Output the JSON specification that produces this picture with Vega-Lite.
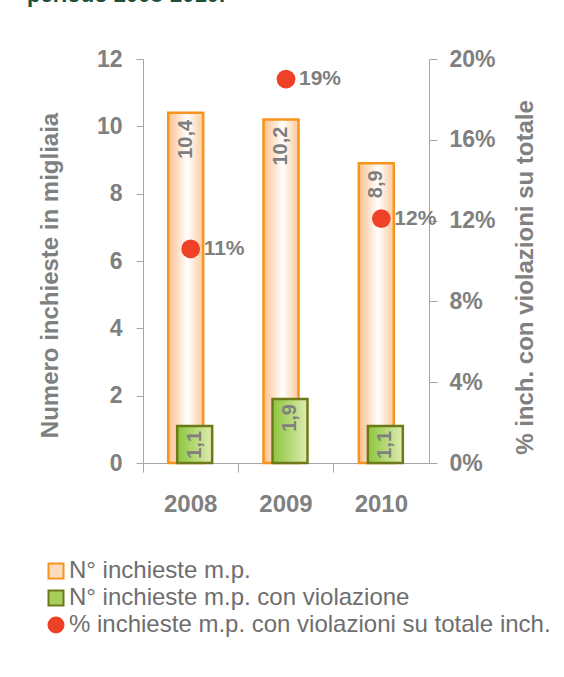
{
  "$schema": "https://vega.github.io/schema/vega-lite/v6.json",
  "autosize": "none",
  "width": 286,
  "height": 404,
  "padding": {"left": 143, "top": 59, "right": 135, "bottom": 214},
  "background": "white",
  "config": {
    "locale": {"number": {"decimal": ",", "thousands": ".", "grouping": [3], "currency": ["", " €"]}},
    "view": {"stroke": null},
    "font": "Liberation Sans",
    "axis": {
      "labelFont": "Liberation Sans", "labelFontWeight": "bold", "labelColor": "#808080", "labelFontSize": 23,
      "titleFont": "Liberation Sans", "titleFontWeight": "bold", "titleColor": "#808080", "titleFontSize": 24,
      "domainColor": "#a6a6a6", "tickColor": "#a6a6a6", "grid": false
    }
  },
  "title": {
    "text": "periodo 2008-2010.", "anchor": "start", "frame": "group", "orient": "top",
    "dx": -116, "offset": 24, "font": "Liberation Sans", "fontSize": 22, "fontWeight": "bold",
    "color": "#1b4f3a", "baseline": "alphabetic"
  },
  "data": {
    "values": [
      {"anno": "2008", "totale": 10.4, "violazione": 1.1, "pct": 0.106},
      {"anno": "2009", "totale": 10.2, "violazione": 1.9, "pct": 0.19},
      {"anno": "2010", "totale": 8.9, "violazione": 1.1, "pct": 0.121}
    ]
  },
  "encoding": {
    "x": {
      "field": "anno", "type": "nominal",
      "scale": {"paddingInner": 0, "paddingOuter": 0},
      "axis": {"title": null, "labelAngle": 0, "bandPosition": 0, "tickSize": 9, "labelPadding": 20, "labelFontSize": 24}
    }
  },
  "layer": [
    {
      "layer": [
        {
          "mark": {
            "type": "bar", "width": 35, "xOffset": -5, "stroke": "#f7941d", "strokeWidth": 2.5,
            "fill": {"gradient": "linear", "x1": 0, "y1": 0, "x2": 1, "y2": 0,
              "stops": [{"offset": 0, "color": "#fbc08c"}, {"offset": 0.55, "color": "#ffffff"}, {"offset": 1, "color": "#fcc99b"}]}
          },
          "encoding": {
            "y": {"field": "totale", "type": "quantitative",
              "scale": {"domain": [0, 12], "nice": false},
              "axis": {"title": "Numero inchieste in migliaia", "values": [0, 2, 4, 6, 8, 10, 12], "tickSize": 7, "labelPadding": 14, "titlePadding": 34, "titleY": 216}}
          }
        },
        {
          "mark": {"type": "text", "angle": 270, "align": "right", "baseline": "middle", "dx": -7, "xOffset": -5,
            "font": "Liberation Sans", "fontWeight": "bold", "fontSize": 20, "color": "#7f7f7f"},
          "encoding": {
            "y": {"field": "totale", "type": "quantitative"},
            "text": {"field": "totale", "type": "quantitative", "format": ".1f"}
          }
        },
        {
          "mark": {
            "type": "bar", "width": 35, "xOffset": 4, "stroke": "#6e7a1a", "strokeWidth": 2.5,
            "fill": {"gradient": "linear", "x1": 0, "y1": 0, "x2": 1, "y2": 0,
              "stops": [{"offset": 0, "color": "#8cc63e"}, {"offset": 0.7, "color": "#c5e08c"}, {"offset": 1, "color": "#dcecb4"}]}
          },
          "encoding": {
            "y": {"field": "violazione", "type": "quantitative"}
          }
        },
        {
          "mark": {"type": "text", "angle": 270, "align": "right", "baseline": "middle", "dx": -5, "xOffset": 4,
            "font": "Liberation Sans", "fontWeight": "bold", "fontSize": 20, "color": "#7f7f7f"},
          "encoding": {
            "y": {"field": "violazione", "type": "quantitative"},
            "text": {"field": "violazione", "type": "quantitative", "format": ".1f"}
          }
        }
      ]
    },
    {
      "layer": [
        {
          "mark": {"type": "point", "shape": "circle", "filled": true, "size": 350, "color": "#ee4127", "opacity": 1},
          "encoding": {
            "y": {"field": "pct", "type": "quantitative",
              "scale": {"domain": [0, 0.2], "nice": false},
              "axis": {"orient": "right", "title": "% inch. con violazioni su totale", "format": ".0%",
                "values": [0, 0.04, 0.08, 0.12, 0.16, 0.2], "tickSize": 8, "labelPadding": 12, "titlePadding": 42, "titleAngle": 270, "titleY": 218}}
          }
        },
        {
          "mark": {"type": "text", "align": "left", "baseline": "middle", "dx": 13,
            "font": "Liberation Sans", "fontWeight": "bold", "fontSize": 21, "color": "#7f7f7f"},
          "encoding": {
            "y": {"field": "pct", "type": "quantitative"},
            "text": {"field": "pct", "type": "quantitative", "format": ".0%"}
          }
        }
      ]
    },
    {
      "transform": [{"filter": "false"}],
      "mark": {"type": "point", "filled": true, "opacity": 1},
      "encoding": {
        "fill": {"field": "serie", "type": "nominal",
          "scale": {"domain": ["N° inchieste m.p.", "N° inchieste m.p. con violazione", "% inchieste m.p. con violazioni su totale inch."],
            "range": ["#fddcbd", "#a6d05a", "#ee4127"]},
          "legend": {"title": null, "orient": "none", "legendX": -99, "legendY": 500, "direction": "vertical",
            "symbolSize": 225, "symbolStrokeWidth": 2, "labelFont": "Liberation Sans", "labelFontSize": 24,
            "labelColor": "#6e6e6e", "labelOffset": 1, "rowPadding": 3, "padding": 0, "labelLimit": 600, "symbolOpacity": 1}},
        "stroke": {"field": "serie", "type": "nominal",
          "scale": {"domain": ["N° inchieste m.p.", "N° inchieste m.p. con violazione", "% inchieste m.p. con violazioni su totale inch."],
            "range": ["#f7941d", "#6e7a1a", "#ee4127"]}},
        "shape": {"field": "serie", "type": "nominal",
          "scale": {"domain": ["N° inchieste m.p.", "N° inchieste m.p. con violazione", "% inchieste m.p. con violazioni su totale inch."],
            "range": ["square", "square", "circle"]}}
      }
    }
  ],
  "resolve": {"scale": {"y": "independent", "fill": "independent", "stroke": "independent", "shape": "independent"}}
}
